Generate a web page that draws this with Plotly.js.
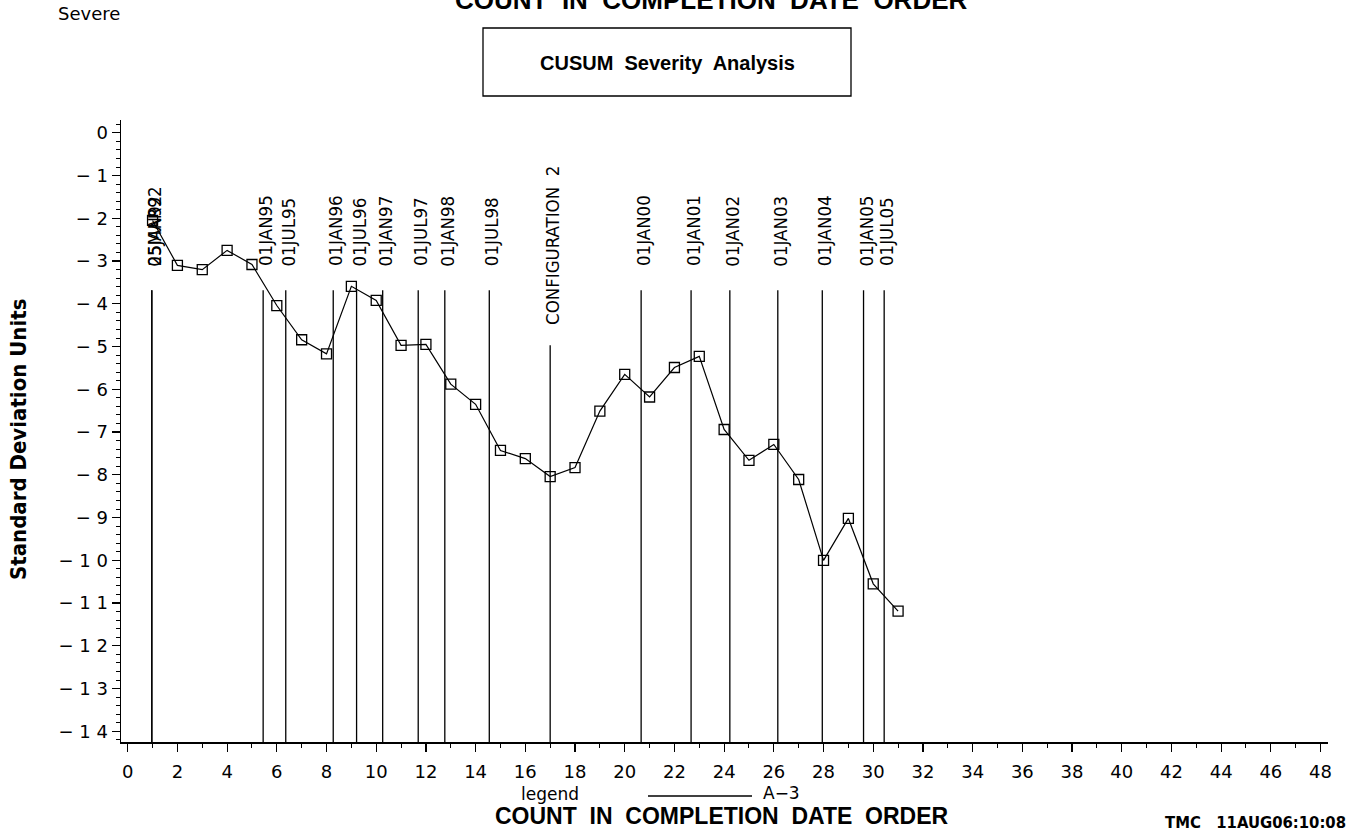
<!DOCTYPE html>
<html>
<head>
<meta charset="utf-8">
<script src="https://cdn.plot.ly/plotly-3.0.1.min.js"></script>
<style>body{margin:0;background:#fff}#chart{width:1348px;height:828px}</style>
</head>
<body>
<div id="chart"></div>
<script>
// ---- data ----
const countX = [1,2,3,4,5,6,7,8,9,10,11,12,13,14,15,16,17,18,19,20,21,22,23,24,25,26,27,28,29,30,31];
const cusumY = [-2.05,-3.10,-3.20,-2.75,-3.08,-4.04,-4.84,-5.17,-3.59,-3.92,-4.97,-4.95,-5.88,-6.35,-7.43,-7.62,-8.04,-7.83,-6.51,-5.65,-6.18,-5.49,-5.23,-6.94,-7.66,-7.29,-8.11,-10.0,-9.02,-10.55,-11.19];
const refX = [0.97,0.97,5.45,6.36,8.27,9.21,10.26,11.69,12.76,14.55,17.0,20.66,22.67,24.23,26.16,27.95,29.61,30.44];
const refLabels = ['05JAN92','25MAR92','01JAN95','01JUL95','01JAN96','01JUL96','01JAN97','01JUL97','01JAN98','01JUL98','CONFIGURATION  2','01JAN00','01JAN01','01JAN02','01JAN03','01JAN04','01JAN05','01JUL05'];
const refLineTop = [-3.68,-3.68,-3.68,-3.68,-3.68,-3.68,-3.68,-3.68,-3.68,-3.68,-4.97,-3.68,-3.68,-3.68,-3.68,-3.68,-3.68,-3.68];
const refLabelBase = [-3.17,-3.17,-3.17,-3.17,-3.17,-3.17,-3.17,-3.17,-3.17,-3.17,-4.55,-3.17,-3.17,-3.17,-3.17,-3.17,-3.17,-3.17];
const xRange = [-0.27, 48.3];
const yRange = [-14.25, 0.3];
const yTickVals = [0,-1,-2,-3,-4,-5,-6,-7,-8,-9,-10,-11,-12,-13,-14];
const yTickText = ['0','\u2212 1','\u2212 2','\u2212 3','\u2212 4','\u2212 5','\u2212 6','\u2212 7','\u2212 8','\u2212 9','\u2212 1 0','\u2212 1 1','\u2212 1 2','\u2212 1 3','\u2212 1 4'];

// ---- geometry helpers (pixel -> paper) ----
const W = 1348, H = 828;
const M = {l:121, r:20, t:120, b:86};
const PW = W - M.l - M.r, PH = H - M.t - M.b;
const px = v => (v - M.l) / PW;
const py = v => (H - M.b - v) / PH;

const strokeFont = '"DejaVu Sans", "Liberation Sans", sans-serif';
const narrowFont = '"Liberation Sans Narrow", "Arial Narrow", "DejaVu Sans Condensed", sans-serif';
const boldFont = '"Liberation Sans", Arial, sans-serif';

// vertical reference lines
const lx = [], ly = [];
refX.forEach((x, i) => { lx.push(x, x, null); ly.push(refLineTop[i], yRange[0], null); });

const traces = [
  {x: lx, y: ly, mode: 'lines', line: {color: '#000', width: 1.3}, hoverinfo: 'skip', showlegend: false},
  {x: countX, y: cusumY, mode: 'lines+markers', name: 'A-3',
   line: {color: '#000', width: 1.2},
   marker: {symbol: 'square-open', size: 10, color: '#000', line: {width: 1.3, color: '#000'}},
   showlegend: false}
];

const ann = refLabels.map((t, i) => ({
  x: refX[i], y: refLabelBase[i], xref: 'x', yref: 'y', text: t, showarrow: false,
  textangle: -90, xanchor: 'center', yanchor: 'bottom', xshift: 3,
  font: {family: narrowFont, size: 18.5, color: '#000'}
}));

ann.push(
  {x: px(56), y: py(13), xref: 'paper', yref: 'paper', text: 'Severe', showarrow: false,
   xanchor: 'left', yanchor: 'middle', font: {family: strokeFont, size: 18, color: '#000'}},
  {x: px(711), y: py(0), xref: 'paper', yref: 'paper', text: '<b>COUNT  IN  COMPLETION  DATE  ORDER</b>', showarrow: false,
   xanchor: 'center', yanchor: 'middle', font: {family: boldFont, size: 26, color: '#000'}},
  {x: px(667), y: py(63), xref: 'paper', yref: 'paper', text: '<b>CUSUM  Severity  Analysis</b>', showarrow: false,
   xanchor: 'center', yanchor: 'middle', font: {family: boldFont, size: 20, color: '#000'}},
  {x: px(18), y: py(440), xref: 'paper', yref: 'paper', text: '<b>Standard Deviation Units</b>', showarrow: false,
   textangle: -90, xanchor: 'center', yanchor: 'middle', font: {family: narrowFont, size: 22, color: '#000'}},
  {x: px(519), y: py(794), xref: 'paper', yref: 'paper', text: 'legend', showarrow: false,
   xanchor: 'left', yanchor: 'middle', font: {family: strokeFont, size: 17, color: '#000'}},
  {x: px(761), y: py(793), xref: 'paper', yref: 'paper', text: 'A\u22123', showarrow: false,
   xanchor: 'left', yanchor: 'middle', font: {family: strokeFont, size: 17, color: '#000'}},
  {x: px(722), y: py(816), xref: 'paper', yref: 'paper', text: '<b>COUNT  IN  COMPLETION  DATE  ORDER</b>', showarrow: false,
   xanchor: 'center', yanchor: 'middle', font: {family: boldFont, size: 23, color: '#000'}},
  {x: px(1163), y: py(822), xref: 'paper', yref: 'paper', text: '<b>TMC   11AUG06:10:08</b>', showarrow: false,
   xanchor: 'left', yanchor: 'middle', font: {family: narrowFont, size: 16.5, color: '#000'}}
);

const shapes = [
  {type: 'rect', xref: 'paper', yref: 'paper', x0: px(483), x1: px(851), y0: py(96), y1: py(28),
   line: {color: '#000', width: 1.3}, fillcolor: 'rgba(0,0,0,0)'},
  {type: 'line', xref: 'paper', yref: 'paper', x0: px(648), x1: px(752), y0: py(796), y1: py(796),
   line: {color: '#000', width: 1.5}}
];

const layout = {
  width: W, height: H, margin: M, paper_bgcolor: '#fff', plot_bgcolor: '#fff', showlegend: false,
  font: {family: strokeFont, color: '#000'},
  xaxis: {range: xRange, tick0: 0, dtick: 2, ticks: 'outside', ticklen: 8, tickwidth: 1.2, tickcolor: '#000',
    showline: true, linecolor: '#000', linewidth: 1.5, showgrid: false, zeroline: false,
    minor: {dtick: 1, ticks: 'outside', ticklen: 4, tickcolor: '#000', tickwidth: 1, showgrid: false},
    tickfont: {family: strokeFont, size: 18, color: '#000'}, ticklabelstandoff: 5},
  yaxis: {range: yRange, tickvals: yTickVals, ticktext: yTickText, ticks: 'outside', ticklen: 8, tickwidth: 1.2, tickcolor: '#000',
    showline: true, linecolor: '#000', linewidth: 1.5, showgrid: false, zeroline: false,
    minor: {dtick: 0.2, ticks: 'outside', ticklen: 4, tickcolor: '#000', tickwidth: 1, showgrid: false},
    tickfont: {family: strokeFont, size: 18, color: '#000'}, ticklabelstandoff: 0},
  annotations: ann,
  shapes: shapes
};

Plotly.newPlot('chart', traces, layout, {staticPlot: true, displayModeBar: false});
</script>
</body>
</html>
